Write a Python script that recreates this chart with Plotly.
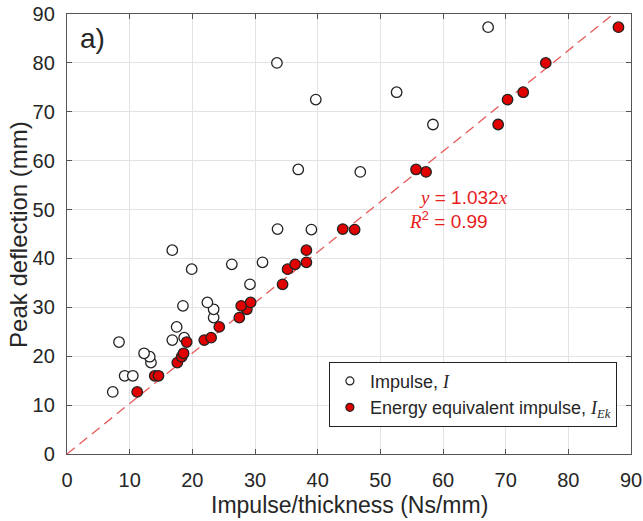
import plotly.graph_objects as go

# Peak deflection (mm), shared by both series (paired test results)
deflection = [12.7, 16.0, 16.0, 18.7, 19.9, 20.6, 22.9, 23.3, 23.8, 26.0, 27.9, 29.6,
              30.3, 31.0, 34.7, 37.8, 38.8, 39.2, 41.7, 46.0, 45.9, 57.7, 58.2, 67.4,
              72.5, 74.0, 80.0, 87.3]
# Impulse/thickness (Ns/mm) - impulse I
impulse = [7.3, 9.2, 10.5, 13.4, 13.2, 12.3, 8.3, 16.8, 18.7, 17.5, 23.4, 23.4,
           18.5, 22.4, 29.2, 19.9, 26.3, 31.2, 16.8, 33.6, 39.0, 46.8, 36.9, 58.4,
           39.7, 52.6, 33.5, 67.2]
# Impulse/thickness (Ns/mm) - energy equivalent impulse I_Ek
energy_impulse = [11.2, 14.0, 14.6, 17.6, 18.3, 18.6, 19.1, 21.9, 23.0, 24.3, 27.5, 28.7,
                  27.8, 29.3, 34.4, 35.2, 36.4, 38.2, 38.2, 44.0, 45.9, 57.3, 55.7, 68.8,
                  70.3, 72.8, 76.4, 88.0]

slope = 1.032
fit_x = [0, 90 / slope]
fit_y = [slope * v for v in fit_x]

serif = "font-family:'Liberation Serif',serif;font-style:italic"
SANS = "Liberation Sans, Arial"
TXT = "#262626"
EDGE = "#222222"

fig = go.Figure()
fig.add_trace(go.Scatter(
    x=fit_x, y=fit_y, mode="lines",
    line=dict(color="#e65a5a", width=1.3, dash="10px,6px"),
    showlegend=False, hoverinfo="skip"))
fig.add_trace(go.Scatter(
    x=impulse, y=deflection, mode="markers", showlegend=False,
    marker=dict(symbol="circle", size=10.5, color="white",
                line=dict(color=EDGE, width=1.3))))
fig.add_trace(go.Scatter(
    x=energy_impulse, y=deflection, mode="markers", showlegend=False,
    marker=dict(symbol="circle", size=10.5, color="#e00000",
                line=dict(color=EDGE, width=1.3))))
# legend entries (smaller legend symbols as in the reference)
fig.add_trace(go.Scatter(
    x=[None], y=[None], mode="markers",
    name=f"Impulse, <span style=\"{serif}\">I</span>",
    marker=dict(symbol="circle", size=8, color="white", line=dict(color=EDGE, width=1.2))))
fig.add_trace(go.Scatter(
    x=[None], y=[None], mode="markers",
    name=f"Energy equivalent impulse, <span style=\"{serif}\">I<sub>Ek</sub></span>",
    marker=dict(symbol="circle", size=8, color="#e00000", line=dict(color=EDGE, width=1.2))))

axis_common = dict(
    range=[0, 90], dtick=10, showgrid=True, gridcolor="#e3e3e3", gridwidth=1,
    zeroline=False, showline=True, linecolor="#555555", linewidth=1.3,
    mirror="ticks", ticks="inside", ticklen=5, tickcolor="#555555",
    tickfont=dict(family=SANS, size=20, color=TXT), automargin=False,
    ticklabeloverflow="allow",
)
fig.update_xaxes(**axis_common, ticklabelstandoff=8)
fig.update_yaxes(**axis_common, ticklabelstandoff=7)

# axis titles
fig.add_annotation(x=0.5, y=-0.116, xref="paper", yref="paper", xanchor="center", yanchor="middle",
                   text="Impulse/thickness (Ns/mm)", showarrow=False,
                   font=dict(family=SANS, size=23, color=TXT))
fig.add_annotation(x=-0.087, y=0.5, xref="paper", yref="paper", xanchor="center", yanchor="middle",
                   text="Peak deflection (mm)", showarrow=False, textangle=-90,
                   font=dict(family=SANS, size=24, color=TXT))

fig.add_annotation(x=0.02, y=0.985, xref="paper", yref="paper", xanchor="left", yanchor="top",
                   text="a)", showarrow=False,
                   font=dict(family=SANS, size=28, color=TXT))
fig.add_annotation(x=63.2, y=52.5, xref="x", yref="y", xanchor="center", yanchor="middle",
                   text=f"<span style=\"{serif}\">y</span> = 1.032<span style=\"{serif}\">x</span>",
                   showarrow=False,
                   font=dict(family=SANS, size=19, color="#e8201c"))
fig.add_annotation(x=60.8, y=47.8, xref="x", yref="y", xanchor="center", yanchor="middle",
                   text=f"<span style=\"{serif}\">R</span><sup>2</sup> = 0.99",
                   showarrow=False,
                   font=dict(family=SANS, size=19, color="#e8201c"))

fig.update_layout(
    width=643, height=521,
    margin=dict(l=67, r=12, t=14, b=67),
    paper_bgcolor="white", plot_bgcolor="white",
    legend=dict(x=0.975, y=0.062, xanchor="right", yanchor="bottom",
                bordercolor=EDGE, borderwidth=1, bgcolor="white",
                font=dict(family=SANS, size=18, color=TXT),
                itemsizing="trace", tracegroupgap=0, itemwidth=30),
)

# remove the default page margin so the figure sits at the window's top-left corner
fig.write_html("out.html",
               config={"displayModeBar": False},
               post_script="document.body.style.margin='0';document.body.style.overflow='hidden';")
